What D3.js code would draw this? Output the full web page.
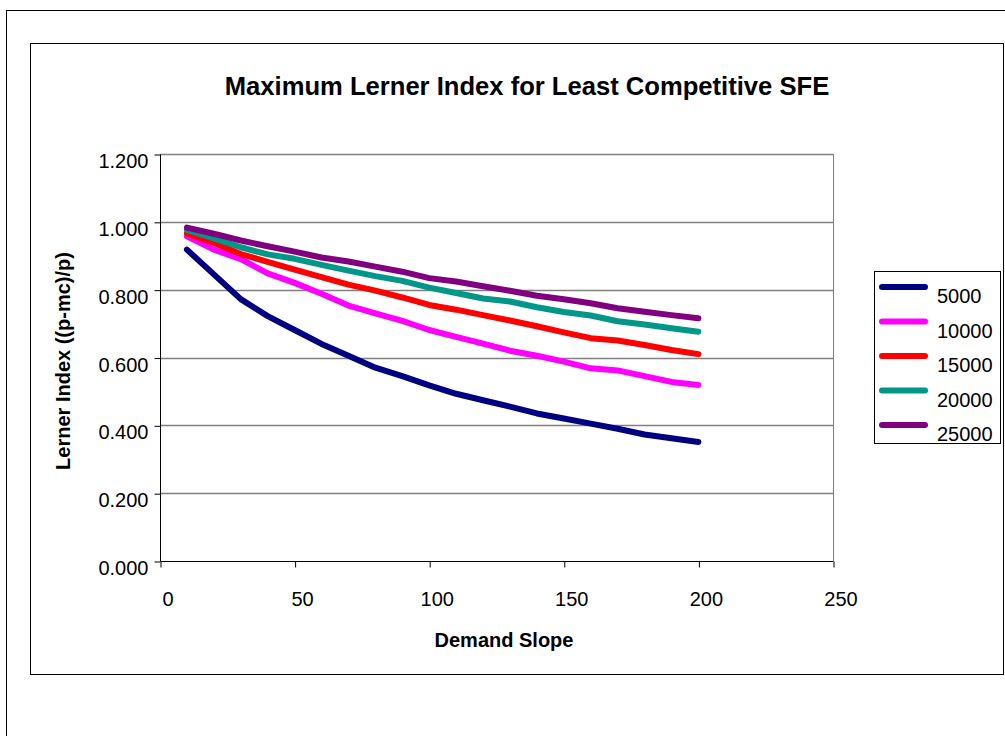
<!DOCTYPE html>
<html><head><meta charset="utf-8">
<script src="https://cdn.jsdelivr.net/npm/d3@7/dist/d3.min.js"></script>
<style>body{margin:0;background:#fff}svg{display:block}text{font-family:"Liberation Sans",Arial,sans-serif}</style>
</head><body>
<svg id="c" width="1005" height="736"></svg>
<script>
const slopes = [10,20,30,40,50,60,70,80,90,100,110,120,130,140,150,160,170,180,190,200];
const s5000  = [0.918,0.845,0.772,0.722,0.681,0.640,0.605,0.570,0.545,0.518,0.493,0.474,0.455,0.435,0.420,0.405,0.390,0.373,0.362,0.351];
const s10000 = [0.957,0.918,0.890,0.848,0.820,0.788,0.753,0.730,0.708,0.681,0.661,0.641,0.620,0.605,0.588,0.568,0.562,0.545,0.528,0.519];
const s15000 = [0.966,0.938,0.905,0.882,0.859,0.837,0.815,0.797,0.777,0.755,0.741,0.725,0.709,0.692,0.674,0.657,0.650,0.637,0.622,0.610];
const s20000 = [0.976,0.951,0.925,0.904,0.891,0.873,0.856,0.840,0.826,0.806,0.790,0.774,0.765,0.748,0.734,0.724,0.707,0.697,0.686,0.676];
const s25000 = [0.983,0.965,0.945,0.928,0.912,0.895,0.883,0.868,0.853,0.834,0.824,0.810,0.797,0.782,0.772,0.760,0.745,0.735,0.725,0.716];
const seriesNames = ["5000","10000","15000","20000","25000"];
const seriesColors = ["#000080","#FF00FF","#FF0000","#009688","#800080"];
const xTicks = [0,50,100,150,200,250];
const yTicks = [0,0.2,0.4,0.6,0.8,1.0,1.2];
const allSeries = [s5000,s10000,s15000,s20000,s25000];

const FONT = '"Liberation Sans", Arial, sans-serif';
const svg = d3.select("#c");
// frames
svg.append("rect").attr("x",6.5).attr("y",10.5).attr("width",1020).attr("height",760)
  .attr("fill","none").attr("stroke","#000").attr("stroke-width",1);
svg.append("rect").attr("x",30.5).attr("y",43.5).attr("width",973).attr("height",631)
  .attr("fill","#fff").attr("stroke","#000").attr("stroke-width",1);

const L=160,R=833,T=154,B=561;
const x = d3.scaleLinear().domain([0,250]).range([L,R]);
const y = d3.scaleLinear().domain([0,1.2]).range([B,T]);

// gridlines
svg.append("g").selectAll("line").data(yTicks.filter(d=>d>0)).join("line")
  .attr("x1",L).attr("x2",R).attr("y1",d=>Math.round(y(d))+0.5).attr("y2",d=>Math.round(y(d))+0.5)
  .attr("stroke","#808080").attr("stroke-width",1.3);
// right border
svg.append("line").attr("x1",R+0.5).attr("x2",R+0.5).attr("y1",T).attr("y2",B).attr("stroke","#808080");

// axes
const ya = svg.append("g").attr("transform",`translate(${L+0.5},0.5)`)
  .call(d3.axisLeft(y).tickValues(yTicks).tickFormat(d3.format(".3f")).tickSize(6).tickPadding(6));
ya.select(".domain").attr("stroke","#000").attr("d",`M0,${T}V${B}`);
ya.selectAll(".tick text").attr("font-size",20).attr("fill","#000").attr("font-family",FONT)
  .attr("dy",null).attr("y",13);

const xa = svg.append("g").attr("transform",`translate(0.5,${B+0.5})`)
  .call(d3.axisBottom(x).tickValues(xTicks).tickSize(6).tickPadding(6));
xa.select(".domain").attr("stroke","#000").attr("d",`M${L},0H${R}`);
xa.selectAll(".tick text").attr("font-size",20).attr("fill","#000").attr("font-family",FONT)
  .attr("dy",null).attr("y",44).attr("dx",7);

// lines
const line = d3.line().x((d,i)=>x(slopes[i])).y(d=>y(d));
svg.append("g").selectAll("path").data(allSeries).join("path")
  .attr("d",d=>line(d)).attr("fill","none")
  .attr("stroke",(d,i)=>seriesColors[i]).attr("stroke-width",6)
  .attr("stroke-linecap","round").attr("stroke-linejoin","round");

// titles
svg.append("text").attr("x",527).attr("y",95).attr("text-anchor","middle")
  .attr("font-size",25.6).attr("font-weight","bold").text("Maximum Lerner Index for Least Competitive SFE");
svg.append("text").attr("x",504).attr("y",647).attr("text-anchor","middle")
  .attr("font-size",20).attr("font-weight","bold").text("Demand Slope");
svg.append("text").attr("transform","translate(70,361) rotate(-90)").attr("text-anchor","middle")
  .attr("font-size",20).attr("font-weight","bold").text("Lerner Index ((p-mc)/p)");

// legend
const lg = svg.append("g");
lg.append("rect").attr("x",874.5).attr("y",271.5).attr("width",126).attr("height",172)
  .attr("fill","#fff").attr("stroke","#000");
const items = lg.selectAll("g").data(seriesNames).join("g")
  .attr("transform",(d,i)=>`translate(0,${287+i*34.5})`);
items.append("line").attr("x1",882).attr("x2",925).attr("y1",0).attr("y2",0)
  .attr("stroke",(d,i)=>seriesColors[i]).attr("stroke-width",6).attr("stroke-linecap","round");
items.append("text").attr("x",937).attr("y",16).attr("font-size",20).text(d=>d);
</script>
</body></html>
